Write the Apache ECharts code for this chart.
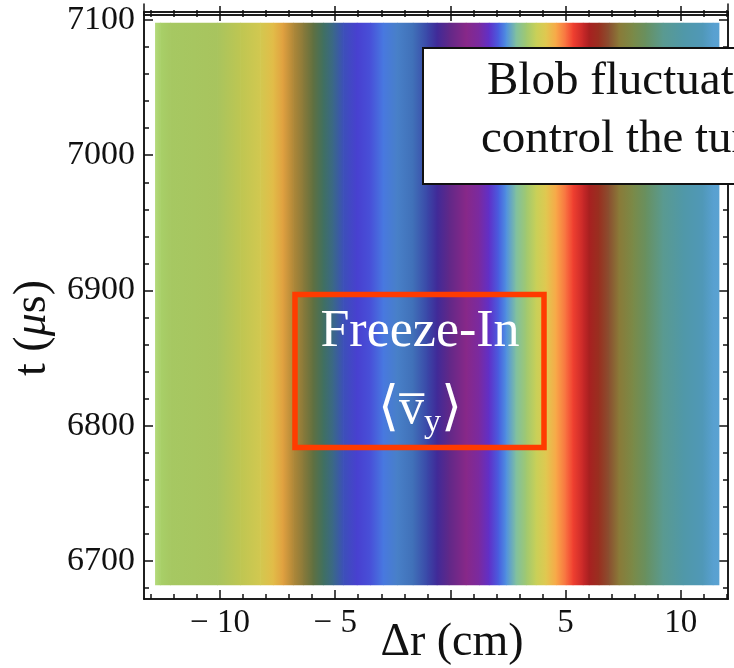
<!DOCTYPE html>
<html>
<head>
<meta charset="utf-8">
<script src="https://cdn.jsdelivr.net/npm/echarts@6/dist/echarts.min.js"></script>
<style>
html,body{margin:0;padding:0;background:#fff;}
#chart{width:734px;height:668px;}
</style>
</head>
<body>
<div id="chart"></div>
<script>
// ---- data ----
const rCm = [-12.82, -12.6, -12.17, -10.13, -9.13, -8.26, -7.7, -7.27, -6.83, -6.4, -5.97, -5.53, -5.1, -4.66, -4.06, -3.49, -2.93, -2.32, -1.63, -1.02, -0.59, -0.07, 0.67, 1.24, 1.67, 2.1, 2.41, 2.84, 3.28, 3.71, 4.14, 4.58, 5.01, 5.31, 5.75, 6.01, 6.44, 6.88, 7.31, 7.92, 8.48, 9.22, 10.09, 10.95, 11.39, 11.65];
const vyColors = ['#b4da7c', '#a8d068', '#a6c862', '#a8c45e', '#bec652', '#d2c850', '#e2bc48', '#e0a040', '#b08838', '#8a7a3a', '#607040', '#407060', '#3a6888', '#3c50b8', '#4840d0', '#4850d8', '#4878e0', '#4880c8', '#4070b8', '#3a48a8', '#402a98', '#602888', '#882888', '#7a2aa0', '#6030c8', '#4860e0', '#5090e0', '#80c0a0', '#a0c870', '#c8d058', '#e0c850', '#f8a848', '#f87040', '#f04030', '#c82828', '#a82020', '#983020', '#8a5030', '#8a7a38', '#7a8a48', '#689060', '#5a9a90', '#5098a8', '#5098b8', '#58a0d0', '#5aa2d2'];
const tExtent = [6682, 7098];
const xMajorTicks = [-10, -5, 0, 5, 10];
const xTickLabels = [-10, -5, 5, 10];
const xMinorTicks = [-13, -12, -11, -10, -9, -8, -7, -6, -5, -4, -3, -2, -1, 0, 1, 2, 3, 4, 5, 6, 7, 8, 9, 10, 11, 12];
const yMajorTicks = [6700, 6800, 6900, 7000, 7100];
const yMinorTicks = [6680, 6700, 6720, 6740, 6760, 6780, 6800, 6820, 6840, 6860, 6880, 6900, 6920, 6940, 6960, 6980, 7000, 7020, 7040, 7060, 7080, 7100];

// ---- chart ----
const FONT = 'Liberation Serif';
const chart = echarts.init(document.getElementById('chart'), null, {renderer: 'canvas'});
const X_MIN = -13.3, X_MAX = 12.05, Y_MIN = 6671.9, Y_MAX = 7105.9;
const lineStyle = {color: '#111', width: 1.5};

function xAx(grid, pos, ticks, len, labels) {
  return {
    type: 'value', gridIndex: grid, position: pos, min: X_MIN, max: X_MAX,
    axisLine: {show: true, onZero: false, lineStyle},
    axisTick: {show: true, inside: true, length: len, customValues: ticks, lineStyle},
    axisLabel: labels ? {
      show: true, customValues: labels, fontFamily: FONT, fontSize: 33, color: '#111', margin: 8,
      formatter: v => v < 0 ? '\u2212 ' + Math.abs(v) : String(v)
    } : {show: false},
    splitLine: {show: false}
  };
}
function yAx(grid, pos, ticks, len, labels, mn, mx) {
  return {
    type: 'value', gridIndex: grid, position: pos, min: mn, max: mx,
    axisLine: {show: true, onZero: false, lineStyle},
    axisTick: ticks ? {show: true, inside: true, length: len, customValues: ticks, lineStyle} : {show: false},
    axisLabel: labels ? {
      show: true, customValues: labels, fontFamily: FONT, fontSize: 34, color: '#111', margin: 9,
      formatter: v => String(v)
    } : {show: false},
    splitLine: {show: false}
  };
}

const segments = rCm.slice(0, -1).map((r, i) => [r, rCm[i + 1], tExtent[0], tExtent[1], i]);

chart.setOption({
  animation: false,
  backgroundColor: '#fff',
  grid: [
    {left: 144, right: 6, top: 12, bottom: 69},
    {left: 144, right: 6, top: -40, height: 44}
  ],
  xAxis: [
    xAx(0, 'bottom', xMajorTicks, 9, xTickLabels),
    xAx(0, 'bottom', xMinorTicks, 5, null),
    xAx(0, 'top', xMajorTicks, 9, null),
    xAx(0, 'top', xMinorTicks, 5, null),
    xAx(1, 'bottom', xMajorTicks, 9, null),
    xAx(1, 'bottom', xMinorTicks, 5, null)
  ],
  yAxis: [
    yAx(0, 'left', yMajorTicks, 9, yMajorTicks, Y_MIN, Y_MAX),
    yAx(0, 'left', yMinorTicks, 5, null, Y_MIN, Y_MAX),
    yAx(0, 'right', yMajorTicks, 9, null, Y_MIN, Y_MAX),
    yAx(0, 'right', yMinorTicks, 5, null, Y_MIN, Y_MAX),
    yAx(1, 'left', null, 0, null, 0, 1),
    yAx(1, 'right', null, 0, null, 0, 1)
  ],
  series: [{
    type: 'custom',
    xAxisIndex: 0, yAxisIndex: 0,
    data: segments,
    encode: {x: [0, 1], y: [2, 3]},
    renderItem: function (params, api) {
      const i = api.value(4);
      const p0 = api.coord([api.value(0), api.value(3)]);
      const p1 = api.coord([api.value(1), api.value(2)]);
      return {
        type: 'rect',
        shape: {x: p0[0], y: p0[1], width: p1[0] - p0[0] + 0.6, height: p1[1] - p0[1]},
        style: {
          fill: new echarts.graphic.LinearGradient(0, 0, 1, 0, [
            {offset: 0, color: vyColors[i]},
            {offset: 1, color: vyColors[i + 1]}
          ])
        }
      };
    }
  }],
  graphic: [
    // axis titles
    {type: 'text', x: 452, y: 643, z: 10,
     style: {text: '\u0394r (cm)', font: '46px "' + FONT + '"', fill: '#111', textAlign: 'center', textVerticalAlign: 'middle'}},
    {type: 'text', x: 33, y: 328, rotation: Math.PI / 2, z: 10,
     style: {text: 't ({i|\u03bc}s)', font: '46px "' + FONT + '"', fill: '#111', textAlign: 'center', textVerticalAlign: 'middle',
       rich: {i: {fontFamily: FONT, fontSize: 46, fontStyle: 'italic', fill: '#111'}}}},
    // Freeze-In annotation
    {type: 'rect', z: 20, shape: {x: 295, y: 294.5, width: 249, height: 153},
     style: {fill: 'none', stroke: '#ff3b00', lineWidth: 5.5}},
    {type: 'text', x: 420, y: 358, z: 21,
     style: {text: 'Freeze-In', font: '52px "' + FONT + '"', fill: '#fff', textAlign: 'center', textVerticalAlign: 'bottom'}},
    {type: 'text', x: 420, y: 410, z: 21,
     style: {text: '{a|\u27e8}{v|v\u0305}{s|y}{a|\u27e9}', fill: '#fff', textAlign: 'center', textVerticalAlign: 'middle',
       rich: {a: {fontFamily: FONT, fontSize: 54, fill: '#fff', verticalAlign: 'middle'},
              v: {fontFamily: FONT, fontSize: 50, fill: '#fff', verticalAlign: 'middle'},
              s: {fontFamily: FONT, fontSize: 34, fill: '#fff', padding: [26, 0, 0, 0], verticalAlign: 'middle'}}}},
    // Blob text box
    {type: 'rect', z: 30, shape: {x: 423, y: 48, width: 400, height: 136},
     style: {fill: '#fff', stroke: '#111', lineWidth: 2}},
    {type: 'text', x: 487, y: 105, z: 31,
     style: {text: 'Blob fluctuations', font: '47px "' + FONT + '"', fill: '#111', textAlign: 'left', textVerticalAlign: 'bottom'}},
    {type: 'text', x: 481, y: 163, z: 31,
     style: {text: 'control the turbulence', font: '47px "' + FONT + '"', fill: '#111', textAlign: 'left', textVerticalAlign: 'bottom'}}
  ]
});
</script>
</body>
</html>
